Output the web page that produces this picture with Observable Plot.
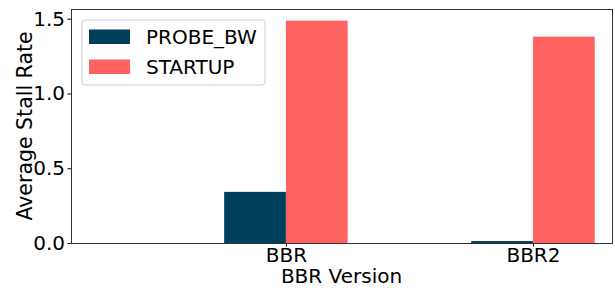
<!DOCTYPE html>
<html><head><meta charset="utf-8">
<script src="https://cdn.jsdelivr.net/npm/d3@7"></script>
<script src="https://cdn.jsdelivr.net/npm/@observablehq/plot@0.6"></script>
<style>body{margin:0;background:#fff} #chart svg{font-family:"DejaVu Sans",sans-serif;}</style>
</head><body><div id="chart"></div>
<script>
const categories = ["BBR", "BBR2"];
const seriesNames = ["PROBE_BW", "STARTUP"];
const probeBW = [0.342, 0.013];
const startup = [1.487, 1.38];
const yTicks = [0, 0.5, 1.0, 1.5];
const colors = ["#003f5c", "#ff6361"];
const xLabel = "BBR Version";
const yLabel = "Average Stall Rate";

const barW = 0.25;
const rows = [];
categories.forEach((c, i) => {
  rows.push({cat: c, i, series: seriesNames[0], value: probeBW[i], x1: i - barW, x2: i});
  rows.push({cat: c, i, series: seriesNames[1], value: startup[i], x1: i, x2: i + barW});
});

const plot = Plot.plot({
  width: 615,
  height: 288,
  marginLeft: 71,
  marginRight: 3,
  marginTop: 9,
  marginBottom: 45,
  style: {fontSize: "20px", fontFamily: "DejaVu Sans, sans-serif", color: "#000", background: "#fff"},
  x: {domain: [-0.87, 1.32], ticks: categories.map((c, i) => i), tickFormat: i => categories[i], tickSize: 3.5, tickPadding: 1, label: null},
  y: {domain: [0, 1.565], ticks: yTicks, tickFormat: d3.format(".1f"), tickSize: 3.5, tickPadding: 3, label: null},
  color: {domain: seriesNames, range: colors},
  marks: [
    Plot.rectY(rows, {x1: "x1", x2: "x2", y: "value", fill: "series"}),
    Plot.frame({stroke: "#333", strokeWidth: 1})
  ]
});
document.getElementById("chart").appendChild(plot);

const svg = d3.select(plot);
// axis titles
svg.append("text").attr("x", (71 + 612) / 2).attr("y", 283).attr("text-anchor", "middle")
  .attr("font-size", 20).attr("fill", "#000").text(xLabel);
svg.append("text").attr("transform", `translate(31.5,${(9 + 243) / 2}) rotate(-90)`).attr("text-anchor", "middle")
  .attr("font-size", 20.5).attr("fill", "#000").text(yLabel);

// legend
const lg = svg.append("g");
lg.append("rect").attr("x", 82).attr("y", 20).attr("width", 183).attr("height", 65).attr("rx", 3)
  .attr("fill", "#fff").attr("fill-opacity", 0.8).attr("stroke", "#ccc");
seriesNames.forEach((s, k) => {
  lg.append("rect").attr("x", 89).attr("y", 29.5 + 30 * k).attr("width", 41).attr("height", 14.5).attr("fill", colors[k]);
  lg.append("text").attr("x", 146).attr("y", 44 + 30 * k).attr("text-anchor", "start")
    .attr("font-size", 20).attr("fill", "#000").text(s);
});
</script>
</body></html>
